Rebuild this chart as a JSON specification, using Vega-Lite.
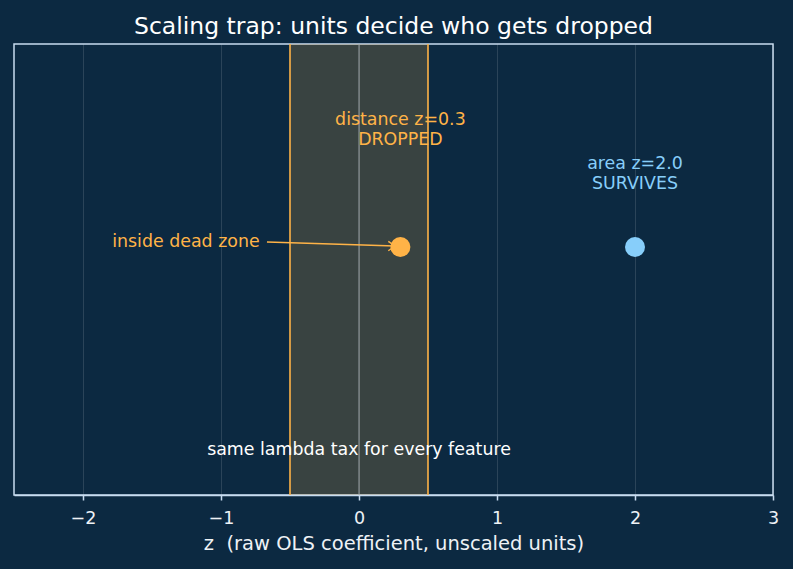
{
  "$schema": "https://vega.github.io/schema/vega-lite/v6.json",
  "width": 759,
  "height": 451,
  "autosize": {"type": "none"},
  "padding": {"left": 14, "top": 44, "right": 20, "bottom": 74},
  "background": "#0c2941",
  "config": {
    "font": "DejaVu Sans",
    "view": {"stroke": "#c8dcf0", "strokeWidth": 1.5},
    "text": {"lineBreak": "\n"}
  },
  "title": {
    "text": "Scaling trap: units decide who gets dropped",
    "color": "#ffffff",
    "fontSize": 23.5,
    "fontWeight": "normal",
    "anchor": "middle",
    "offset": 5
  },
  "datasets": {
    "band": [{"lo": -0.5, "hi": 0.5}],
    "edges": [{"z": -0.5}, {"z": 0.5}],
    "zero": [{"z": 0}],
    "points": [
      {"feature": "distance", "z": 0.3, "y": 0.1},
      {"feature": "area", "z": 2.0, "y": 0.1}
    ],
    "labels": [
      {"label": "distance z=0.3\nDROPPED", "z": 0.3, "y": 0.663, "kind": "drop"},
      {"label": "area z=2.0\nSURVIVES", "z": 2.0, "y": 0.468, "kind": "keep"},
      {"label": "same lambda tax for every feature", "z": 0.0, "y": -0.8, "kind": "note"}
    ],
    "callout": [{"label": "inside dead zone", "z": -0.72, "y": 0.122}],
    "arrow": [{"x1": -0.667, "y1": 0.122, "x2": 0.261, "y2": 0.104}]
  },
  "resolve": {"scale": {"color": "independent"}},
  "layer": [
    {
      "data": {"name": "band"},
      "mark": {"type": "rect", "fill": "#ffb347", "fillOpacity": 0.19, "strokeWidth": 0},
      "encoding": {
        "x": {
          "field": "lo", "type": "quantitative",
          "scale": {"domain": [-2.5, 3], "nice": false, "zero": false},
          "axis": {
            "title": "z \u00a0(raw OLS coefficient, unscaled units)",
            "values": [-2, -1, 0, 1, 2, 3],
            "format": "d",
            "labelFlush": false,
            "labelOverlap": false,
            "grid": true,
            "gridColor": "#ffffff",
            "gridOpacity": 0.13,
            "domainColor": "#c8dcf0",
            "domainWidth": 1.5,
            "tickColor": "#c8dcf0",
            "tickWidth": 1.5,
            "tickSize": 5,
            "labelColor": "#eef2f6",
            "labelFontSize": 17.5,
            "labelPadding": 9,
            "titleColor": "#eef2f6",
            "titleFontSize": 19.5,
            "titleFontWeight": "normal",
            "titlePadding": 8
          }
        },
        "x2": {"field": "hi"}
      }
    },
    {
      "data": {"name": "edges"},
      "mark": {"type": "rule", "color": "#ffb347", "strokeWidth": 1.6},
      "encoding": {"x": {"field": "z", "type": "quantitative"}}
    },
    {
      "data": {"name": "zero"},
      "mark": {"type": "rule", "color": "#a0a8ae", "strokeWidth": 1.2, "opacity": 0.75},
      "encoding": {"x": {"field": "z", "type": "quantitative"}}
    },
    {
      "data": {"name": "arrow"},
      "mark": {"type": "rule", "color": "#ffb347", "strokeWidth": 1.4},
      "encoding": {
        "x": {"field": "x1", "type": "quantitative"},
        "x2": {"field": "x2"},
        "y": {"field": "y1", "type": "quantitative", "scale": {"domain": [-1, 1], "nice": false, "zero": false}, "axis": null},
        "y2": {"field": "y2"}
      }
    },
    {
      "data": {"name": "arrow"},
      "mark": {"type": "point", "shape": "M-1,-0.7L0,0L-1,0.7", "filled": false, "stroke": "#ffb347", "strokeWidth": 1.4, "size": 180, "opacity": 1},
      "encoding": {
        "x": {"field": "x2", "type": "quantitative"},
        "y": {"field": "y2", "type": "quantitative"}
      }
    },
    {
      "data": {"name": "points"},
      "mark": {"type": "circle", "size": 400, "opacity": 1},
      "encoding": {
        "x": {"field": "z", "type": "quantitative"},
        "y": {"field": "y", "type": "quantitative"},
        "color": {"field": "feature", "type": "nominal", "scale": {"domain": ["distance", "area"], "range": ["#ffb347", "#87cefa"]}, "legend": null}
      }
    },
    {
      "data": {"name": "labels"},
      "mark": {"type": "text", "fontSize": 17.4, "align": "center", "baseline": "middle", "lineHeight": 20.5},
      "encoding": {
        "x": {"field": "z", "type": "quantitative"},
        "y": {"field": "y", "type": "quantitative"},
        "text": {"field": "label"},
        "color": {"field": "kind", "type": "nominal", "scale": {"domain": ["drop", "keep", "note"], "range": ["#ffb347", "#87cefa", "#ffffff"]}, "legend": null}
      }
    },
    {
      "data": {"name": "callout"},
      "mark": {"type": "text", "fontSize": 17.4, "align": "right", "baseline": "middle", "color": "#ffb347"},
      "encoding": {
        "x": {"field": "z", "type": "quantitative"},
        "y": {"field": "y", "type": "quantitative"},
        "text": {"field": "label"}
      }
    }
  ]
}
